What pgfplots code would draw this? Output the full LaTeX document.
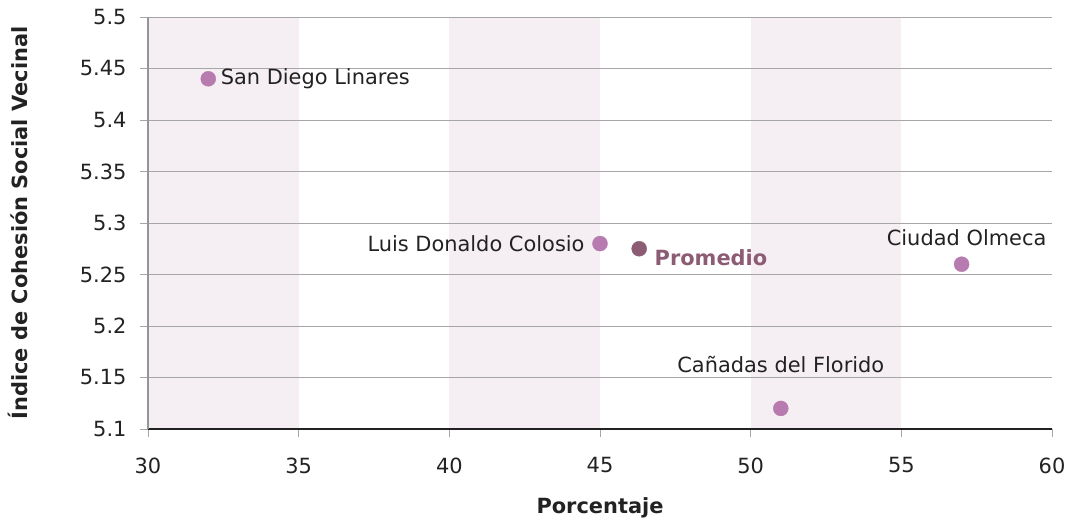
\documentclass[border=0pt]{standalone}
\usepackage{fontspec}
\setmainfont{DejaVu Sans}
\usepackage{pgfplots}
\pgfplotsset{compat=1.18}
\definecolor{band}{HTML}{F5EFF4}
\definecolor{pt}{HTML}{B87BAF}
\definecolor{prom}{HTML}{8C5C74}
\definecolor{gridc}{HTML}{A6A6A6}
\definecolor{txt}{HTML}{222222}
\newcommand\fs{\fontsize{21}{25}\selectfont}
\begin{document}
\begin{tikzpicture}
\begin{axis}[
  name=ax,
  scale only axis,
  width=904bp, height=412bp,
  xmin=30, xmax=60, ymin=5.1, ymax=5.5,
  xtick={30,35,...,60},
  ytick={5.1,5.15,5.2,5.25,5.3,5.35,5.4,5.45,5.5},
  yticklabels={5.1,5.15,5.2,5.25,5.3,5.35,5.4,5.45,5.5},
  /pgf/number format/assume math mode=true,
  axis x line*=bottom, axis y line*=left,
  x axis line style={draw=txt, line width=2.2bp, -},
  y axis line style={draw=gridc!90!black, line width=1.6bp, -},
  ymajorgrids, grid style={gridc, line width=0.8bp},
  tick align=outside, major tick length=8bp,
  tick style={gridc, line width=0.8bp},
  ticklabel style={font=\fs, text=txt},
  xticklabel style={yshift=-17bp},
  yticklabel style={xshift=-10bp},
  label style={font=\fs\bfseries, text=txt},
  xlabel={Porcentaje},
  ylabel={Índice de Cohesión Social Vecinal},
  xlabel style={at={(axis description cs:0.5,-0.192)}, anchor=center},
  ylabel style={at={(axis description cs:-0.144,0.5)}, anchor=center},
  clip=false,
  set layers,
]
\addplot[fill=band, draw=none, on layer=axis background] coordinates {(30,5.1) (30,5.5) (35,5.5) (35,5.1)} -- cycle;
\addplot[fill=band, draw=none, on layer=axis background] coordinates {(40,5.1) (40,5.5) (45,5.5) (45,5.1)} -- cycle;
\addplot[fill=band, draw=none, on layer=axis background] coordinates {(50,5.1) (50,5.5) (55,5.5) (55,5.1)} -- cycle;

\addplot[only marks, mark=*, mark size=7.5bp, pt, mark options={draw=pt, fill=pt},
  point meta=explicit symbolic, nodes near coords,
  nodes near coords style={font=\fs, text=txt, anchor=west, xshift=9bp}]
  coordinates {(32,5.44) [San Diego Linares]};
\addplot[only marks, mark=*, mark size=7.5bp, pt, mark options={draw=pt, fill=pt},
  point meta=explicit symbolic, nodes near coords,
  nodes near coords style={font=\fs, text=txt, anchor=east, xshift=-12bp}]
  coordinates {(45,5.28) [Luis Donaldo Colosio]};
\addplot[only marks, mark=*, mark size=7.5bp, pt, mark options={draw=pt, fill=pt},
  point meta=explicit symbolic, nodes near coords,
  nodes near coords style={font=\fs, text=txt, anchor=south, xshift=5bp, yshift=15bp}]
  coordinates {(57,5.26) [Ciudad Olmeca]};
\addplot[only marks, mark=*, mark size=7.5bp, pt, mark options={draw=pt, fill=pt},
  point meta=explicit symbolic, nodes near coords,
  nodes near coords style={font=\fs, text=txt, anchor=south, yshift=32bp}]
  coordinates {(51,5.12) [Cañadas del Florido]};
\addplot[only marks, mark=*, mark size=7.5bp, prom, mark options={draw=prom, fill=prom},
  point meta=explicit symbolic, nodes near coords,
  nodes near coords style={font=\fs\bfseries, text=prom, anchor=west, xshift=12bp, yshift=-9bp}]
  coordinates {(46.3,5.275) [Promedio]};
\end{axis}
\pgfresetboundingbox
\path ([shift={(-148bp,-91bp)}]ax.south west) rectangle ([shift={(25bp,17bp)}]ax.north east);
\end{tikzpicture}
\end{document}
